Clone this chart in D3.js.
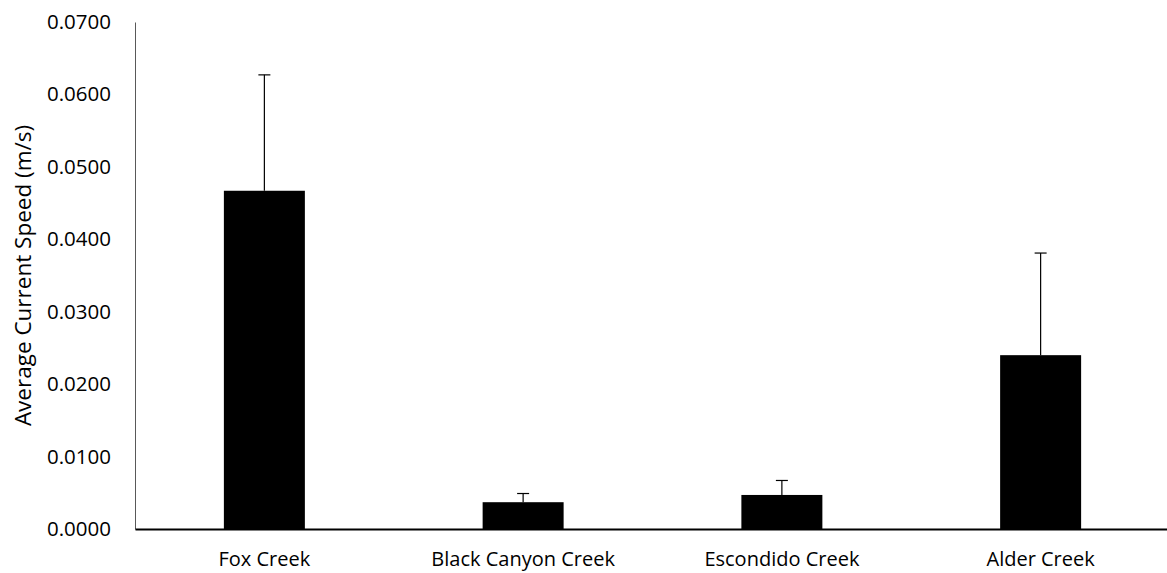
<!DOCTYPE html>
<html>
<head>
<meta charset="utf-8">
<script src="https://cdn.jsdelivr.net/npm/d3@7"></script>
<style>
  body { margin: 0; background: #fff; }
  svg { display: block; font-family: "Open Sans", sans-serif; }
</style>
</head>
<body>
<div id="chart"></div>
<script>
// chart values
const categories = ['Fox Creek', 'Black Canyon Creek', 'Escondido Creek', 'Alder Creek'];
const means = [0.0467, 0.0037, 0.0047, 0.0240];
const errors = [0.0160, 0.0012, 0.0020, 0.0141];
const yTicks = [0, 0.01, 0.02, 0.03, 0.04, 0.05, 0.06, 0.07];

const width = 1167, height = 573;
const margin = { left: 135, right: -3, top: 22, bottom: 44 };

const svg = d3.select('#chart').append('svg')
  .attr('width', width)
  .attr('height', height);

const x = d3.scaleBand()
  .domain(categories)
  .range([margin.left, width - margin.right])
  .paddingInner(0.687)
  .paddingOuter(0.3435);

const y = d3.scaleLinear()
  .domain([0, 0.07])
  .range([height - margin.bottom, margin.top]);

// bars
svg.selectAll('rect.bar')
  .data(categories)
  .enter()
  .append('rect')
  .attr('class', 'bar')
  .attr('x', d => x(d))
  .attr('width', x.bandwidth())
  .attr('y', (d, i) => y(means[i]))
  .attr('height', (d, i) => y(0) - y(means[i]))
  .attr('fill', '#000');

// error bars (plus side only)
const err = svg.selectAll('g.err')
  .data(categories)
  .enter()
  .append('g')
  .attr('class', 'err')
  .attr('stroke', '#000')
  .attr('stroke-width', 1.2);

err.append('line')
  .attr('x1', d => x(d) + x.bandwidth() / 2)
  .attr('x2', d => x(d) + x.bandwidth() / 2)
  .attr('y1', (d, i) => y(means[i]))
  .attr('y2', (d, i) => y(means[i] + errors[i]));

err.append('line')
  .attr('x1', d => x(d) + x.bandwidth() / 2 - 6)
  .attr('x2', d => x(d) + x.bandwidth() / 2 + 6)
  .attr('y1', (d, i) => y(means[i] + errors[i]))
  .attr('y2', (d, i) => y(means[i] + errors[i]));

// y axis
const yAxis = svg.append('g')
  .attr('transform', `translate(${margin.left},0)`)
  .call(d3.axisLeft(y).tickValues(yTicks).tickFormat(d3.format('.4f')).tickSize(0).tickPadding(24));
yAxis.attr('font-family', null).attr('font-size', 20.5);
yAxis.select('.domain').attr('stroke', '#595959').attr('stroke-width', 1);
yAxis.selectAll('text').attr('fill', '#000');

// x axis
const xAxis = svg.append('g')
  .attr('transform', `translate(0,${y(0)})`)
  .call(d3.axisBottom(x).tickSize(0).tickPadding(23));
xAxis.attr('font-family', null).attr('font-size', 20);
xAxis.select('.domain').attr('stroke', '#000').attr('stroke-width', 2);
xAxis.selectAll('text').attr('fill', '#000');

// y axis title
svg.append('text')
  .attr('transform', `translate(31,${(y(0) + y(0.07)) / 2}) rotate(-90)`)
  .attr('text-anchor', 'middle')
  .attr('font-size', 22.5)
  .attr('fill', '#000')
  .text('Average Current Speed (m/s)');
</script>
</body>
</html>
